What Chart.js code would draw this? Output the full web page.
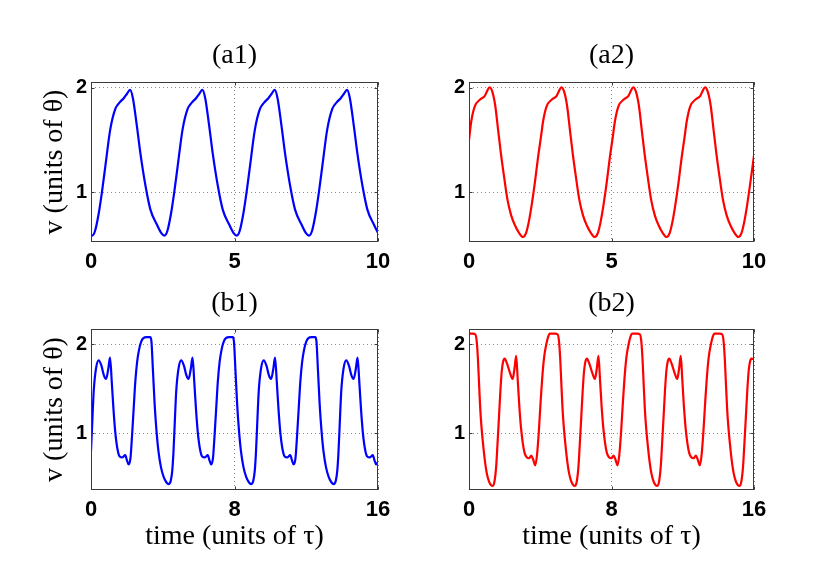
<!DOCTYPE html>
<html>
<head>
<meta charset="utf-8">
<script src="https://cdn.jsdelivr.net/npm/chart.js@4/dist/chart.umd.min.js"></script>
<style>
  html, body { margin: 0; padding: 0; background: #fff; overflow: hidden; }
  #wrap { position: relative; width: 814px; height: 575px; }
  canvas { position: absolute; }
</style>
</head>
<body>
<div id="wrap">
  <canvas id="a1" width="469" height="280" style="left:0px;top:0px"></canvas>
  <canvas id="a2" width="405" height="280" style="left:409px;top:0px"></canvas>
  <canvas id="b1" width="469" height="295" style="left:0px;top:280px"></canvas>
  <canvas id="b2" width="405" height="295" style="left:409px;top:280px"></canvas>
</div>
<script>
// panel (a1): time and v
const a1Time = [0, 0.04, 0.14, 0.27, 0.38, 0.50, 0.67, 0.85, 1.00, 1.14, 1.25, 1.36, 1.46, 1.60, 1.72, 1.90, 2.07, 2.30, 2.45,
  2.56, 2.66, 2.79, 2.90, 3.02, 3.19, 3.37, 3.52, 3.66, 3.77, 3.88, 3.98, 4.12, 4.24, 4.42, 4.59, 4.82, 4.97,
  5.08, 5.18, 5.31, 5.42, 5.54, 5.71, 5.89, 6.04, 6.18, 6.29, 6.40, 6.50, 6.64, 6.76, 6.94, 7.11, 7.34, 7.49,
  7.60, 7.70, 7.83, 7.94, 8.06, 8.23, 8.41, 8.56, 8.70, 8.81, 8.92, 9.02, 9.16, 9.28, 9.46, 9.63, 9.86, 10.0];
const a1V = [0.59, 0.586, 0.63, 0.80, 1.0, 1.25, 1.6, 1.80, 1.86, 1.90, 1.94, 1.98, 1.90, 1.63, 1.375, 1.06, 0.835, 0.69, 0.61,
  0.586, 0.63, 0.80, 1.0, 1.25, 1.6, 1.80, 1.86, 1.90, 1.94, 1.98, 1.90, 1.63, 1.375, 1.06, 0.835, 0.69, 0.61,
  0.586, 0.63, 0.80, 1.0, 1.25, 1.6, 1.80, 1.86, 1.90, 1.94, 1.98, 1.90, 1.63, 1.375, 1.06, 0.835, 0.69, 0.61,
  0.586, 0.63, 0.80, 1.0, 1.25, 1.6, 1.80, 1.86, 1.90, 1.94, 1.98, 1.90, 1.63, 1.375, 1.06, 0.835, 0.69, 0.61];

// panel (a2)
const a2Time = [0, 0.08, 0.20, 0.40, 0.55, 0.64, 0.72, 0.82, 0.92, 1.02, 1.12, 1.23, 1.35, 1.48, 1.62, 1.76, 1.89, 2.00, 2.10, 2.20, 2.31, 2.42,
  2.52, 2.60, 2.72, 2.92, 3.07, 3.16, 3.24, 3.34, 3.44, 3.54, 3.64, 3.75, 3.87, 4.00, 4.14, 4.28, 4.41, 4.52, 4.62, 4.72, 4.83, 4.94,
  5.04, 5.12, 5.24, 5.44, 5.59, 5.68, 5.76, 5.86, 5.96, 6.06, 6.16, 6.27, 6.39, 6.52, 6.66, 6.80, 6.93, 7.04, 7.14, 7.24, 7.35, 7.46,
  7.56, 7.64, 7.76, 7.96, 8.11, 8.20, 8.28, 8.38, 8.48, 8.58, 8.68, 8.79, 8.91, 9.04, 9.18, 9.32, 9.45, 9.56, 9.66, 9.76, 9.87, 10.0];
const a2V = [1.50, 1.68, 1.82, 1.89, 1.92, 1.97, 2.005, 1.96, 1.83, 1.60, 1.37, 1.15, 0.93, 0.78, 0.68, 0.61, 0.573, 0.61, 0.72, 0.88, 1.09, 1.33,
  1.52, 1.68, 1.82, 1.89, 1.92, 1.97, 2.005, 1.96, 1.83, 1.60, 1.37, 1.15, 0.93, 0.78, 0.68, 0.61, 0.573, 0.61, 0.72, 0.88, 1.09, 1.33,
  1.52, 1.68, 1.82, 1.89, 1.92, 1.97, 2.005, 1.96, 1.83, 1.60, 1.37, 1.15, 0.93, 0.78, 0.68, 0.61, 0.573, 0.61, 0.72, 0.88, 1.09, 1.33,
  1.52, 1.68, 1.82, 1.89, 1.92, 1.97, 2.005, 1.96, 1.83, 1.60, 1.37, 1.15, 0.93, 0.78, 0.68, 0.61, 0.573, 0.61, 0.72, 0.88, 1.09, 1.35];

// panel (b1)
const b1Time = [0, 0.07, 0.15, 0.28, 0.43, 0.58, 0.72, 0.84, 0.96, 1.06, 1.16, 1.25, 1.35, 1.47, 1.60, 1.75, 1.91, 2.00, 2.10, 2.20,
  2.29, 2.38, 2.47, 2.57, 2.68, 2.80, 2.92, 3.10, 3.30, 3.37, 3.45, 3.55, 3.65, 3.76, 3.90, 4.05, 4.20, 4.33, 4.45, 4.53,
  4.60, 4.67, 4.75, 4.88, 5.03, 5.18, 5.32, 5.44, 5.56, 5.66, 5.76, 5.85, 5.95, 6.07, 6.20, 6.35, 6.51, 6.60, 6.70, 6.80,
  6.89, 6.98, 7.07, 7.17, 7.28, 7.40, 7.52, 7.70, 7.90, 7.97, 8.05, 8.15, 8.25, 8.36, 8.50, 8.65, 8.80, 8.93, 9.05, 9.13,
  9.20, 9.27, 9.35, 9.48, 9.63, 9.78, 9.92, 10.04, 10.16, 10.26, 10.36, 10.45, 10.55, 10.67, 10.80, 10.95, 11.11, 11.20, 11.30, 11.40,
  11.49, 11.58, 11.67, 11.77, 11.88, 12.00, 12.12, 12.30, 12.50, 12.57, 12.65, 12.75, 12.85, 12.96, 13.10, 13.25, 13.40, 13.53, 13.65, 13.73,
  13.80, 13.87, 13.95, 14.08, 14.23, 14.38, 14.52, 14.64, 14.76, 14.86, 14.96, 15.05, 15.15, 15.27, 15.40, 15.55, 15.71, 15.80, 15.90, 16.0];
const b1V = [0.80, 1.12, 1.47, 1.73, 1.82, 1.76, 1.65, 1.61, 1.72, 1.85, 1.57, 1.28, 1.02, 0.83, 0.74, 0.73, 0.755, 0.70, 0.65, 0.72,
  0.98, 1.28, 1.58, 1.80, 1.94, 2.03, 2.07, 2.08, 2.08, 2.03, 1.72, 1.32, 1.03, 0.80, 0.62, 0.51, 0.45, 0.43, 0.47, 0.58,
  0.80, 1.12, 1.47, 1.73, 1.82, 1.76, 1.65, 1.61, 1.72, 1.85, 1.57, 1.28, 1.02, 0.83, 0.74, 0.73, 0.755, 0.70, 0.65, 0.72,
  0.98, 1.28, 1.58, 1.80, 1.94, 2.03, 2.07, 2.08, 2.08, 2.03, 1.72, 1.32, 1.03, 0.80, 0.62, 0.51, 0.45, 0.43, 0.47, 0.58,
  0.80, 1.12, 1.47, 1.73, 1.82, 1.76, 1.65, 1.61, 1.72, 1.85, 1.57, 1.28, 1.02, 0.83, 0.74, 0.73, 0.755, 0.70, 0.65, 0.72,
  0.98, 1.28, 1.58, 1.80, 1.94, 2.03, 2.07, 2.08, 2.08, 2.03, 1.72, 1.32, 1.03, 0.80, 0.62, 0.51, 0.45, 0.43, 0.47, 0.58,
  0.80, 1.12, 1.47, 1.73, 1.82, 1.76, 1.65, 1.61, 1.72, 1.85, 1.57, 1.28, 1.02, 0.83, 0.74, 0.73, 0.755, 0.70, 0.65, 0.68];

// panel (b2)
const b2Time = [0, 0.20, 0.36, 0.44, 0.50, 0.56, 0.63, 0.71, 0.80, 0.90, 1.00, 1.12, 1.23, 1.34, 1.44, 1.53, 1.60, 1.68, 1.76, 1.84, 1.92, 2.00,
  2.14, 2.30, 2.45, 2.55, 2.65, 2.73, 2.82, 2.92, 3.02, 3.12, 3.24, 3.37, 3.50, 3.61, 3.72, 3.82, 3.92, 4.02, 4.11, 4.22, 4.34, 4.45, 4.54,
  4.62, 4.82, 4.98, 5.06, 5.12, 5.18, 5.25, 5.33, 5.42, 5.52, 5.62, 5.74, 5.85, 5.96, 6.06, 6.15, 6.22, 6.30, 6.38, 6.46, 6.54, 6.62,
  6.76, 6.92, 7.07, 7.17, 7.27, 7.35, 7.44, 7.54, 7.64, 7.74, 7.86, 7.99, 8.12, 8.23, 8.34, 8.44, 8.54, 8.64, 8.73, 8.84, 8.96, 9.07, 9.16,
  9.24, 9.44, 9.60, 9.68, 9.74, 9.80, 9.87, 9.95, 10.04, 10.14, 10.24, 10.36, 10.47, 10.58, 10.68, 10.77, 10.84, 10.92, 11.00, 11.08, 11.16, 11.24,
  11.38, 11.54, 11.69, 11.79, 11.89, 11.97, 12.06, 12.16, 12.26, 12.36, 12.48, 12.61, 12.74, 12.85, 12.96, 13.06, 13.16, 13.26, 13.35, 13.46, 13.58, 13.69, 13.78,
  13.86, 14.06, 14.22, 14.30, 14.36, 14.42, 14.49, 14.57, 14.66, 14.76, 14.86, 14.98, 15.09, 15.20, 15.30, 15.39, 15.46, 15.54, 15.62, 15.70, 15.78, 15.86, 16.0];
const b2V = [2.12, 2.12, 2.11, 2.02, 1.84, 1.58, 1.28, 1.05, 0.86, 0.68, 0.55, 0.46, 0.42, 0.41, 0.47, 0.64, 0.88, 1.17, 1.47, 1.70, 1.81, 1.84,
  1.78, 1.68, 1.61, 1.72, 1.87, 1.62, 1.32, 1.06, 0.89, 0.78, 0.73, 0.72, 0.75, 0.70, 0.64, 0.76, 1.02, 1.35, 1.62, 1.86, 2.00, 2.09, 2.12,
  2.12, 2.12, 2.11, 2.02, 1.84, 1.58, 1.28, 1.05, 0.86, 0.68, 0.55, 0.46, 0.42, 0.41, 0.47, 0.64, 0.88, 1.17, 1.47, 1.70, 1.81, 1.84,
  1.78, 1.68, 1.61, 1.72, 1.87, 1.62, 1.32, 1.06, 0.89, 0.78, 0.73, 0.72, 0.75, 0.70, 0.64, 0.76, 1.02, 1.35, 1.62, 1.86, 2.00, 2.09, 2.12,
  2.12, 2.12, 2.11, 2.02, 1.84, 1.58, 1.28, 1.05, 0.86, 0.68, 0.55, 0.46, 0.42, 0.41, 0.47, 0.64, 0.88, 1.17, 1.47, 1.70, 1.81, 1.84,
  1.78, 1.68, 1.61, 1.72, 1.87, 1.62, 1.32, 1.06, 0.89, 0.78, 0.73, 0.72, 0.75, 0.70, 0.64, 0.76, 1.02, 1.35, 1.62, 1.86, 2.00, 2.09, 2.12,
  2.12, 2.12, 2.11, 2.02, 1.84, 1.58, 1.28, 1.05, 0.86, 0.68, 0.55, 0.46, 0.42, 0.41, 0.47, 0.64, 0.88, 1.17, 1.47, 1.70, 1.81, 1.84, 1.83];

// ticks and labels
const aTicks = [0, 5, 10];
const bTicks = [0, 8, 16];
const vTicks = [1, 2];
const yLabel = 'v (units of θ)';
const xLabel = 'time (units of τ)';

const SERIF = "'Liberation Serif', 'Times New Roman', serif";
const SANS = "'Liberation Sans', Arial, Helvetica, sans-serif";
const serifFont = { family: SERIF, size: 28, weight: 'normal', lineHeight: 1.2 };

const pts = (t, v) => t.map((x, i) => ({ x, y: v[i] }));

// box round the plot + small inward tick marks (matlab style)
const frame = {
  id: 'frame',
  afterDraw(chart) {
    const { ctx, chartArea: a, scales } = chart;
    const L = Math.round(a.left) + 0.5, R = Math.round(a.right) - 0.5;
    const T = Math.round(a.top) + 0.5, B = Math.round(a.bottom) - 0.5;
    ctx.save();
    ctx.strokeStyle = '#3a3a3a';
    ctx.lineWidth = 1;
    ctx.strokeRect(L, T, R - L, B - T);
    ctx.beginPath();
    scales.y.ticks.forEach(t => {
      const y = Math.round(scales.y.getPixelForValue(t.value)) + 0.5;
      ctx.moveTo(L, y); ctx.lineTo(L + 3, y);
      ctx.moveTo(R, y); ctx.lineTo(R - 3, y);
    });
    scales.x.ticks.forEach(t => {
      const x = Math.round(scales.x.getPixelForValue(t.value)) + 0.5;
      ctx.moveTo(x, B); ctx.lineTo(x, B - 3);
      ctx.moveTo(x, T); ctx.lineTo(x, T + 3);
    });
    ctx.stroke();
    ctx.restore();
  }
};

function panel(id, o) {
  new Chart(document.getElementById(id), {
    type: 'line',
    data: {
      datasets: [{
        data: pts(o.t, o.v),
        borderColor: o.color,
        borderWidth: 2.2,
        pointRadius: 0,
        fill: false,
        cubicInterpolationMode: 'monotone'
      }]
    },
    options: {
      responsive: false,
      animation: false,
      devicePixelRatio: 1,
      layout: { padding: 0 },
      plugins: {
        legend: { display: false },
        tooltip: { enabled: false },
        title: { display: true, text: o.title, color: '#000', font: serifFont, padding: o.titlePad }
      },
      scales: {
        x: {
          type: 'linear', min: o.xMin, max: o.xMax,
          afterBuildTicks: s => { s.ticks = o.xTicks.map(v => ({ value: v })); },
          afterFit: s => { s.height = o.xh; s.paddingLeft = 0; s.paddingRight = 0; },
          grid: { color: '#8a8a8a', lineWidth: 1, drawTicks: false },
          border: { display: false, dash: [1, 3] },
          ticks: { color: '#000', padding: 7, maxRotation: 0, autoSkip: false,
                   font: { family: SANS, size: 22, weight: 'bold' } },
          title: o.xTitle
            ? { display: true, text: xLabel, color: '#000', font: serifFont, padding: { top: 0, bottom: 22 } }
            : { display: false }
        },
        y: {
          type: 'linear', min: o.yMin, max: o.yMax,
          afterBuildTicks: s => { s.ticks = vTicks.map(v => ({ value: v })); },
          afterFit: s => { s.width = o.yw; s.paddingTop = 0; s.paddingBottom = 0; },
          grid: { color: '#8a8a8a', lineWidth: 1, drawTicks: false },
          border: { display: false, dash: [1, 3] },
          ticks: { color: '#000', padding: 4, autoSkip: false,
                   font: { family: SANS, size: 20, weight: 'bold' } },
          title: o.yTitle
            ? { display: true, text: yLabel, color: '#000', font: serifFont, padding: { top: 38.2, bottom: 0 } }
            : { display: false }
        },
        yr: {
          type: 'linear', position: 'right', display: true,
          afterFit: s => { s.width = o.yw; },
          grid: { display: false },
          border: { display: false },
          ticks: { display: false }
        }
      }
    },
    plugins: [frame]
  });
}

const rowA = { xMin: 0, xMax: 10, xTicks: aTicks, yMin: 0.525, yMax: 2.055, xh: 38, titlePad: { top: 39.1, bottom: 9.3 }, xTitle: false };
const rowB = { xMin: 0, xMax: 16, xTicks: bTicks, yMin: 0.363, yMax: 2.172, xh: 85, titlePad: { top: 6.6, bottom: 8.8 }, xTitle: true };

panel('a1', Object.assign({}, rowA, { t: a1Time, v: a1V, color: '#0000ff', title: '(a1)', yw: 91, yTitle: true }));
panel('a2', Object.assign({}, rowA, { t: a2Time, v: a2V, color: '#ff0000', title: '(a2)', yw: 60, yTitle: false }));
panel('b1', Object.assign({}, rowB, { t: b1Time, v: b1V, color: '#0000ff', title: '(b1)', yw: 91, yTitle: true }));
panel('b2', Object.assign({}, rowB, { t: b2Time, v: b2V, color: '#ff0000', title: '(b2)', yw: 60, yTitle: false }));
</script>
</body>
</html>
